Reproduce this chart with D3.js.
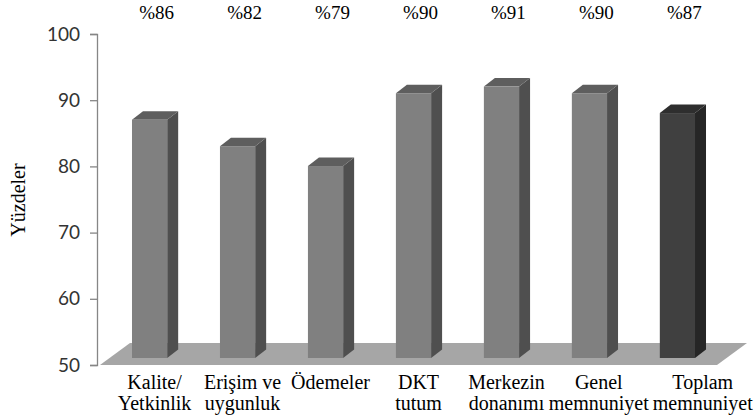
<!DOCTYPE html>
<html>
<head>
<meta charset="utf-8">
<script src="https://cdn.jsdelivr.net/npm/d3@7"></script>
<style>
  html, body { margin: 0; padding: 0; background: #fff; }
  svg { display: block; }
</style>
</head>
<body>
<svg id="chart" width="755" height="417"></svg>
<script>
// Survey satisfaction by dimension (percent)
const categories = ["Kalite/ Yetkinlik", "Erişim ve uygunluk", "Ödemeler", "DKT tutum",
                    "Merkezin donanımı", "Genel memnuniyet", "Toplam memnuniyet"];
const labelLines = [["Kalite/", "Yetkinlik"], ["Erişim ve", "uygunluk"], ["Ödemeler"],
                    ["DKT", "tutum"], ["Merkezin", "donanımı"], ["Genel", "memnuniyet"],
                    ["Toplam", "memnuniyet"]];
const values = [86, 82, 79, 90, 91, 90, 87];
const yTicks = [50, 60, 70, 80, 90, 100];
const yTitle = "Yüzdeler";

const svg = d3.select("#chart");
const W = 755, H = 417;

const axisX = 97;
const y = d3.scaleLinear().domain([50, 100]).range([365, 34]);
const x = d3.scaleBand().domain(categories).range([99, 728]).paddingInner(0.6).paddingOuter(0.375);

// depth offsets for the 3D look
const floorDx = 30, floorDy = -22;   // full floor depth
const barLift = 7;                   // bar front plane sits above the floor front edge
const sideDx = 11, sideDy = -8.5;    // bar depth

const serif = "'Liberation Serif', 'Times New Roman', serif";

// floor
const fy = y(50);
const fl = x.range()[0] + 1;
const fr = x(categories[categories.length - 1]) + x.bandwidth() + 22;
svg.append("polygon")
  .attr("points", [[fl, fy], [fr, fy], [fr + floorDx, fy + floorDy], [fl + floorDx, fy + floorDy]].join(" "))
  .attr("fill", "#a6a6a6");

// axis
const axis = d3.axisLeft(y).tickValues(yTicks).tickSize(7).tickPadding(10).tickFormat(d3.format("d"));
const ag = svg.append("g").attr("transform", `translate(${axisX},0)`).call(axis);
ag.select(".domain").attr("stroke", "#868686").attr("stroke-width", 1.3);
ag.selectAll(".tick line").attr("stroke", "#868686").attr("stroke-width", 1.3);
ag.selectAll(".tick text")
  .attr("fill", "#333")
  .style("font-family", "Lato, 'Open Sans', sans-serif")
  .style("font-size", "19px");

// bars
const palette = [
  { front: "#808080", side: "#4f4f4f", top: "#5e5e5e" },
  { front: "#404040", side: "#262626", top: "#2e2e2e" }
];
const bars = svg.append("g").selectAll("g.bar")
  .data(categories.map((c, i) => ({ c, v: values[i], last: i === categories.length - 1 })))
  .join("g").attr("class", "bar");

bars.each(function (d) {
  const g = d3.select(this);
  const col = d.last ? palette[1] : palette[0];
  const x0 = x(d.c), x1 = x0 + x.bandwidth();
  const yt = y(d.v) - barLift, yb = y(50) - barLift;
  // side face
  g.append("polygon")
    .attr("points", [[x1, yt], [x1 + sideDx, yt + sideDy], [x1 + sideDx, yb + sideDy], [x1, yb]].join(" "))
    .attr("fill", col.side);
  // top face
  g.append("polygon")
    .attr("points", [[x0, yt], [x0 + sideDx, yt + sideDy], [x1 + sideDx, yt + sideDy], [x1, yt]].join(" "))
    .attr("fill", col.top);
  // front face
  g.append("rect")
    .attr("x", x0).attr("y", yt).attr("width", x.bandwidth()).attr("height", yb - yt)
    .attr("fill", col.front);
});

// value labels above the plot
svg.append("g").selectAll("text")
  .data(categories.map((c, i) => ({ c, v: values[i] })))
  .join("text")
  .attr("x", d => x(d.c) + x.bandwidth() / 2 + 7)
  .attr("y", 19)
  .attr("text-anchor", "middle")
  .style("font-family", serif)
  .style("font-size", "19px")
  .attr("fill", "#000")
  .text(d => "%" + d.v);

// category labels: centred under the bars, nudged right where neighbours would collide
const cl = svg.append("g").selectAll("text")
  .data(categories.map((c, i) => ({ c, lines: labelLines[i] })))
  .join("text")
  .attr("text-anchor", "middle")
  .style("font-family", serif)
  .style("font-size", "20px")
  .attr("fill", "#000");
cl.each(function (d) {
  d3.select(this).selectAll("tspan").data(d.lines).join("tspan")
    .attr("y", (s, j) => 389 + j * 21)
    .text(s => s);
  d.w = d3.max(d3.select(this).selectAll("tspan").nodes(), n => n.getComputedTextLength());
});
const gap = 4;
let prevRight = -Infinity;
cl.each(function (d) {
  let cx = x(d.c) + x.bandwidth() / 2 + 5;
  if (cx - d.w / 2 < prevRight + gap) cx = prevRight + gap + d.w / 2;
  d.cx = cx;
  prevRight = cx + d.w / 2;
});
cl.each(function (d) {
  d3.select(this).selectAll("tspan").attr("x", d.cx);
});

// y axis title
svg.append("text")
  .attr("transform", "translate(25,200) rotate(-90)")
  .attr("text-anchor", "middle")
  .style("font-family", serif)
  .style("font-size", "20px")
  .attr("fill", "#000")
  .text(yTitle);
</script>
</body>
</html>
